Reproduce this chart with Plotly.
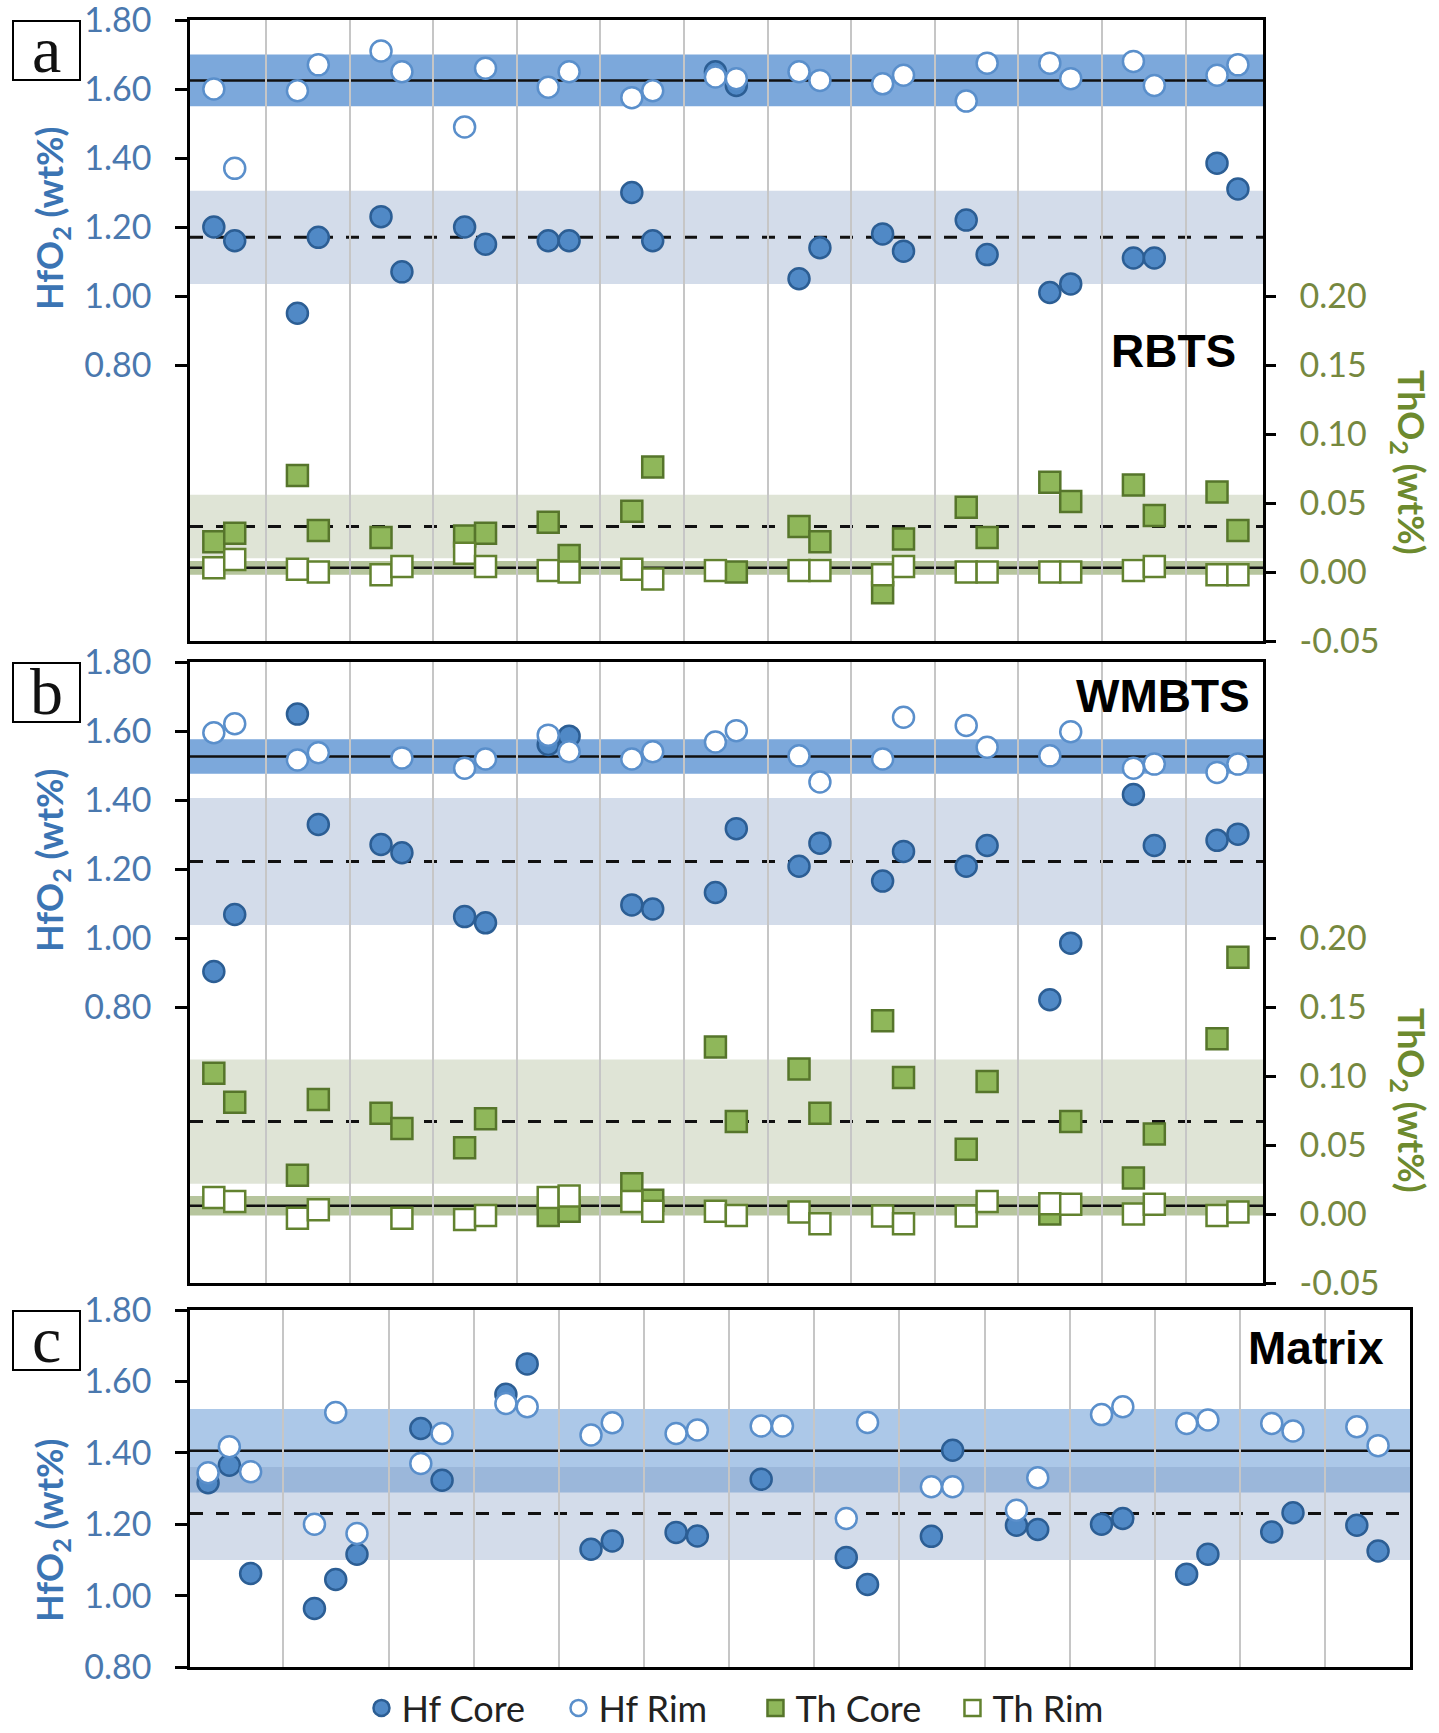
import plotly.graph_objects as go

# ---------------- data ----------------
# sample positions (panels a and b: 13 grains x 2 spots; panel c: 14 groups)
pos_ab = [2, 3, 6, 7, 10, 11, 14, 15, 18, 19, 22, 23, 26, 27, 30, 31, 34, 35, 38, 39, 42, 43, 46, 47, 50, 51]
grid_ab = [4.5, 8.5, 12.5, 16.5, 20.5, 24.5, 28.5, 32.5, 36.5, 40.5, 44.5, 48.5]
pos_c = [1, 2, 3, 6, 7, 8, 11, 12, 15, 16, 19, 20, 23, 24, 27, 28, 31, 32, 35, 36, 39, 40, 43, 44, 47, 48, 51, 52, 55, 56]
grid_c = [4.5, 9.5, 13.5, 17.5, 21.5, 25.5, 29.5, 33.5, 37.5, 41.5, 45.5, 49.5, 53.5]

# Panel a - RBTS
hf_core_a = [1.20, 1.16, 0.95, 1.17, 1.23, 1.07, 1.20, 1.15, 1.16, 1.16, 1.30, 1.16, 1.65,
             1.61, 1.05, 1.14, 1.18, 1.13, 1.22, 1.12, 1.01, 1.035, 1.11, 1.11, 1.385, 1.31]
hf_rim_a = [1.60, 1.37, 1.595, 1.67, 1.71, 1.65, 1.49, 1.66, 1.605, 1.65, 1.575, 1.595, 1.635,
            1.63, 1.65, 1.625, 1.615, 1.64, 1.565, 1.675, 1.675, 1.63, 1.68, 1.61, 1.64, 1.67]
th_core_a = [0.022, 0.028, 0.070, 0.030, 0.025, None, 0.026, 0.028, 0.036, 0.012, 0.044, 0.076, None,
             0.000, 0.033, 0.022, -0.015, 0.024, 0.047, 0.025, 0.065, 0.051, 0.063, 0.041, 0.058, 0.030]
th_rim_a = [0.003, 0.009, 0.002, 0.000, -0.002, 0.004, 0.0135, 0.004, 0.001, 0.000, 0.002, -0.005, 0.001,
            None, 0.001, 0.001, -0.002, 0.004, 0.000, 0.000, 0.000, 0.000, 0.001, 0.004, -0.002, -0.002]

# Panel b - WMBTS
hf_core_b = [0.903, 1.068, 1.649, 1.329, 1.271, 1.247, 1.062, 1.044, 1.561, 1.585, 1.096, 1.084, 1.132,
             1.317, 1.208, 1.275, 1.165, 1.251, 1.208, 1.268, 0.821, 0.985, 1.416, 1.268, 1.283, 1.301]
hf_rim_b = [1.595, 1.621, 1.516, 1.537, None, 1.522, 1.492, 1.519, 1.588, 1.540, 1.519, 1.540, 1.568,
            1.601, 1.528, 1.452, 1.519, 1.640, 1.616, 1.553, 1.528, 1.598, 1.492, 1.504, 1.480, 1.504]
th_core_b = [0.102, 0.081, 0.028, 0.083, 0.073, 0.062, 0.048, 0.069, -0.001, 0.002, 0.022, 0.010, 0.121,
             0.067, 0.105, 0.073, 0.140, 0.099, 0.047, 0.096, 0.000, 0.067, 0.026, 0.058, 0.127, 0.186]
th_rim_b = [0.012, 0.009, -0.003, 0.003, None, -0.003, -0.004, -0.001, 0.012, 0.013, 0.009, 0.002, 0.002,
            -0.001, 0.0015, -0.007, -0.0015, -0.007, -0.0015, 0.009, 0.0075, 0.007, 0.000, 0.007, -0.001, 0.0015]

# Panel c - Matrix
hf_core_c = [1.316, 1.365, 1.062, 0.964, 1.045, 1.116, 1.468, 1.323, 1.564, 1.649, 1.130, 1.153, 1.177, 1.167,
             1.326, None, 1.107, 1.031, 1.166, 1.407, 1.197, 1.185, 1.200, 1.216, 1.060, 1.116, 1.178, 1.232,
             1.197, 1.125]
hf_rim_c = [1.344, 1.417, 1.347, 1.200, 1.513, 1.174, 1.370, 1.454, 1.538, 1.529, 1.450, 1.484, 1.454, 1.464,
            1.475, 1.475, 1.216, 1.485, 1.305, 1.305, 1.239, 1.330, 1.507, 1.529, 1.482, 1.492, 1.482, 1.461,
            1.473, 1.420]

# mean and half-width of shaded bands  (a, b, c)
hf_rim_mean = [1.625, 1.526, 1.406]
hf_rim_sd = [0.075, 0.050, 0.117]
hf_core_mean = [1.170, 1.222, 1.230]
hf_core_sd = [0.135, 0.184, 0.130]
th_core_mean = [0.033, 0.067]
th_core_sd = [0.023, 0.045]
th_rim_mean = [0.003, 0.006]
th_rim_sd = [0.005, 0.007]

panel_letters = ["a", "b", "c"]
panel_names = ["RBTS", "WMBTS", "Matrix"]
hf_ticks = [0.80, 1.00, 1.20, 1.40, 1.60, 1.80]
th_ticks = [-0.05, 0.00, 0.05, 0.10, 0.15, 0.20]
series_names = ["Hf Core", "Hf Rim", "Th Core", "Th Rim"]

# ---------------- style ----------------
W, H = 1439, 1733
HF_CORE_FILL, HF_CORE_LINE = "#5089c6", "#2c5e94"
HF_RIM_LINE = "#5a8fcb"
TH_CORE_FILL, TH_CORE_LINE = "#8fb75a", "#56752b"
TH_RIM_LINE = "#62822f"
HF_TXT, HF_TITLE = "#4a78ae", "#3b74b3"
TH_TXT, TH_TITLE = "#76883f", "#6d8a2e"
FONT = "Lato, 'Open Sans', sans-serif"
GRID = "#c6c6c6"

def px_x(p):
    return p / W

def px_y(p):
    return 1 - p / H

# panel pixel boxes (top, bottom)
boxes = [(20, 641), (662, 1283), (1310, 1667)]
x_left, x_right_ab, x_right_c = 190, 1263, 1410

fig = go.Figure()

def add_markers(xv, yv, axis_x, axis_y, name, symbol, fill, line, show):
    fig.add_trace(go.Scatter(
        x=xv, y=yv, mode="markers", name=name, xaxis=axis_x, yaxis=axis_y,
        showlegend=show, legendgroup=name,
        marker=dict(symbol=symbol, size=21, color=fill, line=dict(color=line, width=2.5)),
        hoverinfo="x+y+name"))

# panel a
add_markers(pos_ab, hf_core_a, "x", "y", series_names[0], "circle", HF_CORE_FILL, HF_CORE_LINE, True)
add_markers(pos_ab, hf_rim_a, "x", "y", series_names[1], "circle", "white", HF_RIM_LINE, True)
add_markers(pos_ab, th_core_a, "x", "y2", series_names[2], "square", TH_CORE_FILL, TH_CORE_LINE, True)
add_markers(pos_ab, th_rim_a, "x", "y2", series_names[3], "square", "white", TH_RIM_LINE, True)
# panel b
add_markers(pos_ab, hf_core_b, "x2", "y3", series_names[0], "circle", HF_CORE_FILL, HF_CORE_LINE, False)
add_markers(pos_ab, hf_rim_b, "x2", "y3", series_names[1], "circle", "white", HF_RIM_LINE, False)
add_markers(pos_ab, th_core_b, "x2", "y4", series_names[2], "square", TH_CORE_FILL, TH_CORE_LINE, False)
add_markers(pos_ab, th_rim_b, "x2", "y4", series_names[3], "square", "white", TH_RIM_LINE, False)
# panel c
add_markers(pos_c, hf_core_c, "x3", "y5", series_names[0], "circle", HF_CORE_FILL, HF_CORE_LINE, False)
add_markers(pos_c, hf_rim_c, "x3", "y5", series_names[1], "circle", "white", HF_RIM_LINE, False)

shapes = []
def band(xref, yref, m, s, color):
    shapes.append(dict(type="rect", xref=xref + " domain", x0=0, x1=1, yref=yref, y0=m - s, y1=m + s,
                       fillcolor=color, line=dict(width=0), layer="below"))

def mline(xref, yref, m, dash, width=2.5):
    shapes.append(dict(type="line", xref=xref + " domain", x0=0, x1=1, yref=yref, y0=m, y1=m,
                       line=dict(color="#111111", width=width, dash=dash), layer="below"))

# panel a bands
band("x", "y", hf_core_mean[0], hf_core_sd[0], "rgba(120,150,190,0.33)")
band("x", "y", hf_rim_mean[0], hf_rim_sd[0], "rgba(74,134,205,0.72)")
band("x", "y2", th_core_mean[0], th_core_sd[0], "rgba(150,165,120,0.30)")
band("x", "y2", th_rim_mean[0], th_rim_sd[0], "rgba(110,140,60,0.50)")
mline("x", "y", hf_rim_mean[0], "solid")
mline("x", "y", hf_core_mean[0], "13px,13px", 3)
mline("x", "y2", th_core_mean[0], "13px,13px", 3)
mline("x", "y2", th_rim_mean[0], "solid")
# panel b
band("x2", "y3", hf_core_mean[1], hf_core_sd[1], "rgba(120,150,190,0.33)")
band("x2", "y3", hf_rim_mean[1], hf_rim_sd[1], "rgba(74,134,205,0.72)")
band("x2", "y4", th_core_mean[1], th_core_sd[1], "rgba(150,165,120,0.30)")
band("x2", "y4", th_rim_mean[1], th_rim_sd[1], "rgba(110,140,60,0.50)")
mline("x2", "y3", hf_rim_mean[1], "solid")
mline("x2", "y3", hf_core_mean[1], "13px,13px", 3)
mline("x2", "y4", th_core_mean[1], "13px,13px", 3)
mline("x2", "y4", th_rim_mean[1], "solid")
# panel c
band("x3", "y5", hf_rim_mean[2], hf_rim_sd[2], "rgba(90,145,210,0.50)")
band("x3", "y5", hf_core_mean[2], hf_core_sd[2], "rgba(120,150,190,0.33)")
mline("x3", "y5", hf_rim_mean[2], "solid")
mline("x3", "y5", hf_core_mean[2], "13px,13px", 3)

# panel letter boxes
annotations = []
for i, (t, b) in enumerate(boxes):
    shapes.append(dict(type="rect", xref="paper", yref="paper", x0=px_x(13), x1=px_x(80),
                       y0=px_y(t + 60), y1=px_y(t + 1), line=dict(color="black", width=2),
                       fillcolor="white", layer="above"))
    annotations.append(dict(text=panel_letters[i], xref="paper", yref="paper", x=px_x(46.5),
                            y=px_y(t + 29), xanchor="center", yanchor="middle", showarrow=False,
                            font=dict(family="'Liberation Serif', serif", size=66, color="#111")))

# panel names
name_pos = [(0.977, 0.467), (0.990, 0.945), (0.980, 0.894)]
xrefs = ["x", "x2", "x3"]
yrefs = ["y", "y3", "y5"]
for i in range(3):
    annotations.append(dict(text="<b>" + panel_names[i] + "</b>", xref=xrefs[i] + " domain",
                            yref=yrefs[i] + " domain", x=name_pos[i][0], y=name_pos[i][1],
                            xanchor="right", yanchor="middle", showarrow=False,
                            font=dict(family="'Liberation Sans Narrow', 'Liberation Sans', sans-serif",
                                      size=46, color="black")))

# axis titles
hf_title_y = [218, 860, 1530]
for i in range(3):
    annotations.append(dict(text="<b>HfO<sub>2</sub> (wt%)</b>", xref="paper", yref="paper",
                            x=px_x(51), y=px_y(hf_title_y[i]), textangle=-90, showarrow=False,
                            xanchor="center", yanchor="middle",
                            font=dict(family=FONT, size=36, color=HF_TITLE)))
th_title_y = [462, 1100]
for i in range(2):
    annotations.append(dict(text="<b>ThO<sub>2</sub> (wt%)</b>", xref="paper", yref="paper",
                            x=px_x(1410), y=px_y(th_title_y[i]), textangle=90, showarrow=False,
                            xanchor="center", yanchor="middle",
                            font=dict(family=FONT, size=36, color=TH_TITLE)))

def xaxis(rng, grid, right_px, anchor):
    return dict(domain=[px_x(x_left), px_x(right_px)], range=rng, anchor=anchor, automargin=False,
                tickvals=grid, showticklabels=False, ticks="", showgrid=True,
                gridcolor=GRID, gridwidth=2, zeroline=False,
                showline=True, linecolor="black", linewidth=2.5, mirror=True, fixedrange=True)

def hf_axis(dom, rng, anchor):
    return dict(domain=dom, range=rng, anchor=anchor, tickvals=hf_ticks, automargin=False,
                ticktext=["%.2f" % v for v in hf_ticks], ticks="outside", ticklen=12,
                tickwidth=2.5, tickcolor="black", ticklabelstandoff=17, ticklabeloverflow="allow",
                tickfont=dict(family=FONT, size=34, color=HF_TXT), showgrid=False, zeroline=False,
                showline=True, linecolor="black", linewidth=2.5, mirror=True, fixedrange=True)

def th_axis(overlay, anchor):
    return dict(overlaying=overlay, side="right", anchor=anchor, range=[-0.05, 0.40], automargin=False,
                tickvals=th_ticks, ticktext=["%.2f" % v for v in th_ticks], ticks="outside",
                ticklen=10, tickwidth=2.5, tickcolor="black", ticklabelstandoff=17,
                ticklabeloverflow="allow",
                tickfont=dict(family=FONT, size=34, color=TH_TXT), showgrid=False, zeroline=False,
                showline=True, linecolor="black", linewidth=2.5, fixedrange=True)

dom_a = [px_y(boxes[0][1]), px_y(boxes[0][0])]
dom_b = [px_y(boxes[1][1]), px_y(boxes[1][0])]
dom_c = [px_y(boxes[2][1]), px_y(boxes[2][0])]

fig.update_layout(
    width=W, height=H, autosize=False,
    margin=dict(l=0, r=0, t=0, b=0, autoexpand=False),
    paper_bgcolor="white", plot_bgcolor="white",
    xaxis=xaxis([0.86, 52.2], grid_ab, x_right_ab, "y"),
    xaxis2=xaxis([0.86, 52.2], grid_ab, x_right_ab, "y3"),
    xaxis3=xaxis([0.15, 57.5], grid_c, x_right_c, "y5"),
    yaxis=hf_axis(dom_a, [0, 1.8], "x"),
    yaxis2=th_axis("y", "x"),
    yaxis3=hf_axis(dom_b, [0, 1.8], "x2"),
    yaxis4=th_axis("y3", "x2"),
    yaxis5=hf_axis(dom_c, [0.8, 1.8], "x3"),
    shapes=shapes, annotations=annotations,
    legend=dict(orientation="h", x=0.525, xanchor="center", y=px_y(1708), yanchor="middle",
                font=dict(family=FONT, size=36, color="#222"), itemwidth=30, entrywidth=152,
                bgcolor="rgba(0,0,0,0)", traceorder="normal"),
)

fig.write_html("out.html")
